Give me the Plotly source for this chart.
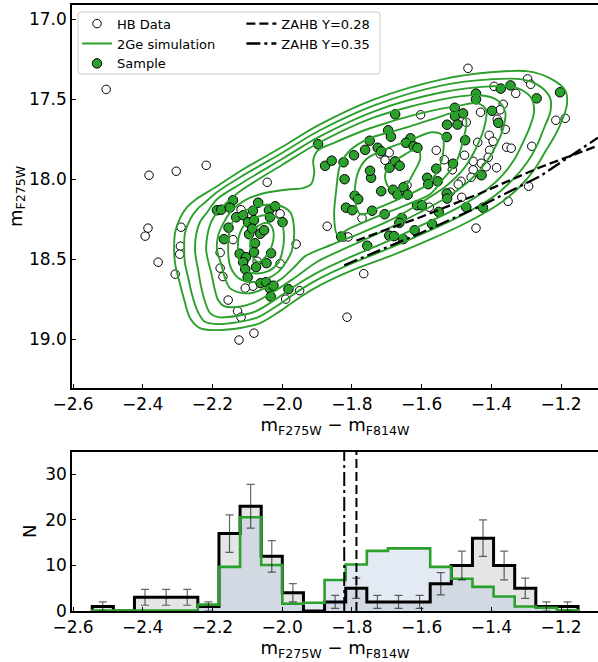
import numpy as np
import plotly.graph_objects as go

GREEN = "#2ca02c"
FONT = "DejaVu Sans"

# ---------------- observed HB stars (open circles) ----------------
hb_col = [-2.505, -1.467, -2.382, -2.304, -2.218, -2.043, -2.385, -2.393, -2.290, -2.356,
          -2.307, -2.292, -2.294, -2.178, -2.178, -2.170, -2.155, -2.128, -2.118, -2.124,
          -2.081, -2.141, -2.084, -1.960, -1.990, -1.950, -1.814, -1.766, -1.871, -1.771,
          -1.822, -1.811, -1.444, -1.352, -1.485, -1.293, -1.578, -1.296, -1.287, -1.392,
          -1.330, -1.366, -1.375, -1.431, -1.472, -1.383, -1.360, -1.215, -1.188, -1.603,
          -1.406, -1.395, -1.439, -1.405, -1.356, -1.343, -1.284, -1.558, -1.477, -1.535,
          -1.409, -1.452, -1.429, -1.512, -1.452, -1.415, -1.385, -1.432, -1.458, -1.487,
          -1.495, -1.518, -1.719, -1.693, -1.705, -1.642, -2.118, -2.006, -2.072, -2.006,
          -2.106]
hb_mag = [17.438, 17.306, 17.975, 17.950, 17.913, 18.019, 18.306, 18.356, 18.300, 18.519,
          18.594, 18.419, 18.469, 18.459, 18.556, 18.609, 18.756, 18.825, 18.863, 19.006,
          18.963, 18.378, 18.669, 18.406, 18.750, 18.697, 18.863, 18.591, 18.294, 18.244,
          18.361, 18.361, 18.306, 18.138, 18.113, 18.044, 18.175, 17.372, 17.406, 17.419,
          17.463, 17.531, 17.566, 17.581, 17.644, 17.625, 17.688, 17.631, 17.619, 17.597,
          17.725, 17.763, 17.769, 17.819, 17.800, 17.806, 17.794, 17.819, 17.850, 17.878,
          17.863, 17.888, 17.900, 17.941, 17.941, 17.922, 17.928, 17.972, 17.988, 18.013,
          18.031, 18.081, 17.841, 17.834, 17.881, 18.038, 18.191, 18.216, 18.513, 18.528,
          18.681]

# ---------------- stars drawn from the 2Ge simulation ----------------
sample_col = [-2.187, -2.175, -2.141, -2.150, -2.132, -2.112, -2.098, -2.084, -2.069, -2.081,
              -2.154, -2.167, -2.095, -2.063, -2.052, -2.038, -2.035, -2.020, -1.999, -2.122,
              -2.104, -2.081, -2.112, -2.106, -2.099, -2.075, -2.045, -2.032, -2.062, -2.046,
              -2.035, -2.025, -2.033, -1.982, -2.086, -2.078,
              -1.897, -1.877, -1.858, -1.824, -1.821, -1.817, -1.799, -1.792, -1.782, -1.831,
              -1.756, -1.745, -1.748, -1.742, -1.794, -1.762, -1.749, -1.726, -1.716, -1.696,
              -1.688, -1.676, -1.632, -1.645, -1.623, -1.612, -1.676, -1.663, -1.692, -1.716,
              -1.682, -1.652, -1.669, -1.640, -1.584, -1.581, -1.554, -1.558, -1.528, -1.527,
              -1.505, -1.504, -1.481, -1.497, -1.475, -1.510, -1.428, -1.706, -1.613, -1.599,
              -1.528, -1.527, -1.657, -1.664, -1.693, -1.679, -1.620, -1.570, -1.551, -1.472,
              -1.424, -1.653, -1.398, -1.444, -1.444, -1.373, -1.345, -1.270, -1.203, -1.380]
sample_mag = [18.194, 18.191, 18.131, 18.178, 18.238, 18.225, 18.269, 18.197, 18.147, 18.256,
              18.303, 18.375, 18.344, 18.341, 18.319, 18.194, 18.238, 18.169, 18.269, 18.466,
              18.488, 18.456, 18.519, 18.563, 18.613, 18.550, 18.525, 18.463, 18.650, 18.644,
              18.684, 18.666, 18.734, 18.688, 18.309, 18.400,
              17.781, 17.916, 17.884, 17.894, 18.000, 18.178, 18.194, 18.103, 18.125, 18.359,
              18.416, 17.991, 17.947, 18.197, 17.850, 17.816, 17.759, 17.803, 17.825, 17.694,
              17.734, 17.594, 17.744, 17.772, 17.794, 17.803, 17.888, 17.916, 17.928, 18.075,
              18.066, 18.050, 18.097, 18.097, 17.991, 18.031, 18.013, 17.934, 17.736, 17.659,
              17.553, 17.606, 17.588, 17.658, 17.756, 17.903, 17.975, 18.219, 18.163, 18.163,
              18.089, 18.121, 18.242, 18.273, 18.353, 18.356, 18.319, 18.281, 18.204, 18.175,
              18.178, 18.375, 17.572, 17.464, 17.500, 17.433, 17.413, 17.494, 17.456, 17.647]

# ---------------- zero-age HB loci ----------------
zahb28_col = [-1.787, -1.604, -1.432, -1.260, -1.094]
zahb28_mag = [18.384, 18.238, 18.088, 17.925, 17.790]
zahb35_col = [-1.822, -1.604, -1.432, -1.260, -1.094]
zahb35_mag = [18.538, 18.338, 18.169, 17.981, 17.740]

# ---------------- density contours of the 2Ge simulation ----------------
c1_col = [-2.310, -2.307, -2.293, -2.273, -2.247, -2.187, -2.121, -1.997, -1.897, -1.736,
          -1.541, -1.403, -1.294, -1.231, -1.188, -1.183, -1.197, -1.217, -1.243, -1.274,
          -1.317, -1.375, -1.469, -1.567, -1.676, -1.805, -1.891, -1.949, -2.006, -2.063,
          -2.121, -2.193, -2.236, -2.264, -2.281, -2.296, -2.307]
c1_mag = [18.444, 18.331, 18.244, 18.175, 18.125, 18.044, 17.950, 17.794, 17.663, 17.500,
          17.375, 17.331, 17.325, 17.369, 17.444, 17.531, 17.631, 17.725, 17.819, 17.931,
          18.044, 18.150, 18.269, 18.369, 18.469, 18.575, 18.663, 18.738, 18.825, 18.900,
          18.931, 18.944, 18.931, 18.869, 18.756, 18.631, 18.531]
c2_col = [-2.281, -2.279, -2.264, -2.244, -2.221, -2.187, -2.121, -1.997, -1.897, -1.736,
          -1.541, -1.403, -1.312, -1.260, -1.231, -1.231, -1.249, -1.269, -1.297, -1.340,
          -1.392, -1.484, -1.581, -1.685, -1.805, -1.891, -1.954, -2.012, -2.069, -2.127,
          -2.190, -2.224, -2.244, -2.259, -2.270, -2.279]
c2_mag = [18.444, 18.338, 18.250, 18.188, 18.144, 18.081, 17.988, 17.831, 17.700, 17.538,
          17.413, 17.375, 17.375, 17.419, 17.494, 17.581, 17.681, 17.788, 17.894, 18.006,
          18.106, 18.225, 18.325, 18.425, 18.531, 18.619, 18.700, 18.788, 18.863, 18.894,
          18.906, 18.888, 18.819, 18.719, 18.613, 18.525]
c3_col = [-2.250, -2.247, -2.236, -2.215, -2.187, -2.121, -1.997, -1.897, -1.736, -1.541,
          -1.403, -1.332, -1.289, -1.277, -1.289, -1.309, -1.332, -1.366, -1.412, -1.498,
          -1.593, -1.690, -1.805, -1.891, -1.960, -2.018, -2.075, -2.132, -2.184, -2.207,
          -2.221, -2.233, -2.241, -2.247]
c3_mag = [18.444, 18.350, 18.269, 18.206, 18.125, 18.031, 17.869, 17.738, 17.575, 17.456,
          17.419, 17.425, 17.481, 17.569, 17.669, 17.769, 17.869, 17.969, 18.063, 18.181,
          18.281, 18.381, 18.488, 18.575, 18.663, 18.750, 18.825, 18.856, 18.863, 18.838,
          18.769, 18.669, 18.569, 18.500]
c4_col = [-2.218, -2.215, -2.204, -2.184, -2.155, -2.121, -1.997, -1.897, -1.736, -1.541,
          -1.432, -1.383, -1.360, -1.366, -1.386, -1.415, -1.455, -1.518, -1.610, -1.705,
          -1.805, -1.897, -1.966, -2.026, -2.084, -2.132, -2.167, -2.184, -2.195, -2.204,
          -2.213]
c4_mag = [18.444, 18.356, 18.269, 18.200, 18.138, 18.075, 17.906, 17.775, 17.613, 17.500,
          17.475, 17.506, 17.581, 17.681, 17.788, 17.894, 17.994, 18.100, 18.213, 18.319,
          18.419, 18.513, 18.619, 18.706, 18.775, 18.800, 18.794, 18.756, 18.675, 18.581,
          18.506]
c5_col = [-2.187, -2.184, -2.170, -2.144, -2.106, -2.063, -2.020, -1.977, -1.940, -1.917,
          -1.908, -1.911, -1.897, -1.848, -1.748, -1.604, -1.490, -1.438, -1.415, -1.421,
          -1.444, -1.478, -1.527, -1.604, -1.690, -1.776, -1.863, -1.934, -1.963, -2.000,
          -2.049, -2.092, -2.127, -2.150, -2.164, -2.175]
c5_mag = [18.444, 18.356, 18.281, 18.194, 18.131, 18.094, 18.075, 18.063, 18.056, 18.031,
          17.956, 17.881, 17.819, 17.769, 17.681, 17.588, 17.538, 17.525, 17.569, 17.681,
          17.806, 17.931, 18.038, 18.150, 18.256, 18.338, 18.413, 18.481, 18.544, 18.619,
          18.681, 18.713, 18.706, 18.681, 18.619, 18.531]
c6a_col = [-2.155, -2.152, -2.138, -2.104, -2.058, -2.012, -1.977, -1.966, -1.972, -1.989,
           -2.012, -2.046, -2.086, -2.121, -2.144, -2.152]
c6a_mag = [18.444, 18.338, 18.250, 18.194, 18.163, 18.163, 18.206, 18.306, 18.444, 18.519,
           18.581, 18.625, 18.644, 18.625, 18.569, 18.519]
c6b_col = [-1.842, -1.851, -1.845, -1.834, -1.805, -1.756, -1.662, -1.561, -1.495, -1.472,
           -1.481, -1.501, -1.541, -1.576, -1.647, -1.733, -1.805]
c6b_mag = [18.344, 18.225, 18.069, 17.913, 17.819, 17.750, 17.688, 17.619, 17.581, 17.631,
           17.756, 17.894, 18.006, 18.094, 18.163, 18.238, 18.306]
c7a_col = [-2.127, -2.124, -2.109, -2.075, -2.035, -2.003, -1.995, -2.000, -2.012, -2.040,
           -2.081, -2.112, -2.124]
c7a_mag = [18.444, 18.356, 18.288, 18.238, 18.225, 18.263, 18.350, 18.456, 18.525, 18.575,
           18.588, 18.556, 18.500]
c7b_col = [-1.776, -1.791, -1.785, -1.759, -1.705, -1.633, -1.570, -1.541, -1.538, -1.553,
           -1.587, -1.647, -1.719]
c7b_mag = [18.219, 18.131, 17.975, 17.875, 17.813, 17.756, 17.706, 17.725, 17.831, 17.944,
           18.038, 18.106, 18.175]
c8a_col = [-2.092, -2.086, -2.066, -2.040, -2.026, -2.029, -2.046, -2.069, -2.086]
c8a_mag = [18.413, 18.338, 18.288, 18.275, 18.319, 18.413, 18.481, 18.519, 18.481]
c8b_col = [-1.705, -1.685, -1.647, -1.610, -1.604, -1.622, -1.645, -1.673, -1.696]
c8b_mag = [17.975, 17.900, 17.844, 17.806, 17.869, 17.956, 18.038, 18.069, 18.044]

contours = [(c1_col, c1_mag), (c2_col, c2_mag), (c3_col, c3_mag), (c4_col, c4_mag),
            (c5_col, c5_mag), (c6a_col, c6a_mag), (c6b_col, c6b_mag), (c7a_col, c7a_mag),
            (c7b_col, c7b_mag), (c8a_col, c8a_mag), (c8b_col, c8b_mag)]

# ---------------- colour histograms ----------------
bin_lo = -2.545
bin_w = 0.0606
hb_counts = [1, 0, 3, 3, 3, 1, 17, 23, 12, 4, 0, 2, 5, 2, 2, 2, 6, 10, 16, 10, 5, 1, 1]
sim_counts = [0.1, 0.1, 0.1, 0.1, 0.1, 1.4, 9.7, 20.6, 10.1, 1.6, 1.8, 6.8, 10.2, 13.2,
              13.75, 13.75, 9.7, 7.1, 5.3, 3.2, 1.0, 0.7, 0.15]

x_range = [-2.603, -1.094]
x_ticks = [-2.6, -2.4, -2.2, -2.0, -1.8, -1.6, -1.4, -1.2]
mag_ticks = [17.0, 17.5, 18.0, 18.5, 19.0]
n_ticks = [0, 10, 20, 30]

DASH28 = "9px,4px"
DASH35 = "14px,4px,3px,4px"

fig = go.Figure()

# --- CMD panel ---
fig.add_trace(go.Scatter(
    x=hb_col, y=hb_mag, mode="markers", name="HB Data", legend="legend", legendrank=1,
    marker=dict(symbol="circle", size=8.5, color="white", line=dict(color="black", width=1)),
    xaxis="x", yaxis="y"))
fig.add_trace(go.Scatter(
    x=sample_col, y=sample_mag, mode="markers", name="Sample", legend="legend", legendrank=3,
    marker=dict(symbol="circle", size=9.5, color=GREEN, line=dict(color="black", width=1)),
    xaxis="x", yaxis="y"))
for i, (cx, cy) in enumerate(contours):
    fig.add_trace(go.Scatter(
        x=list(cx) + [cx[0]], y=list(cy) + [cy[0]], mode="lines",
        line=dict(color=GREEN, width=1.9, shape="spline", smoothing=0.9),
        name="2Ge simulation", legend="legend", legendrank=2, showlegend=(i == 0),
        hoverinfo="skip", xaxis="x", yaxis="y"))
fig.add_trace(go.Scatter(
    x=zahb28_col, y=zahb28_mag, mode="lines", name="ZAHB Y=0.28", legend="legend2",
    legendrank=1, line=dict(color="black", width=2.3, dash=DASH28), xaxis="x", yaxis="y"))
fig.add_trace(go.Scatter(
    x=zahb35_col, y=zahb35_mag, mode="lines", name="ZAHB Y=0.35", legend="legend2",
    legendrank=2, line=dict(color="black", width=2.3, dash=DASH35), xaxis="x", yaxis="y"))

# --- histogram panel ---
edges = bin_lo + bin_w * np.arange(len(hb_counts) + 1)


def step_xy(counts):
    xs = [edges[0]] + list(edges[:-1]) + [edges[-1], edges[-1]]
    ys = [0] + list(counts) + [counts[-1], 0]
    return xs, ys


hx, hy = step_xy(hb_counts)
sx, sy = step_xy(sim_counts)

fig.add_trace(go.Scatter(x=hx, y=hy, mode="lines", line=dict(width=0, shape="hv"),
                         fill="tozeroy", fillcolor="#e5e5e5", showlegend=False,
                         hoverinfo="skip", xaxis="x2", yaxis="y2"))
fig.add_trace(go.Scatter(x=sx, y=sy, mode="lines", line=dict(width=0, shape="hv"),
                         fill="tozeroy", fillcolor="rgba(176,196,222,0.35)", showlegend=False,
                         hoverinfo="skip", xaxis="x2", yaxis="y2"))
fig.add_trace(go.Scatter(x=hx, y=hy, mode="lines", line=dict(color="black", width=3, shape="hv"),
                         showlegend=False, xaxis="x2", yaxis="y2"))
fig.add_trace(go.Scatter(x=sx, y=sy, mode="lines", line=dict(color=GREEN, width=2.6, shape="hv"),
                         showlegend=False, xaxis="x2", yaxis="y2"))

centers = edges[:-1] + bin_w / 2
hb_arr = np.array(hb_counts, dtype=float)
nz = hb_arr > 0
fig.add_trace(go.Scatter(
    x=centers[nz], y=hb_arr[nz], mode="markers", marker=dict(size=1, opacity=0),
    error_y=dict(type="data", array=np.sqrt(hb_arr[nz]), color="rgba(0,0,0,0.6)",
                 thickness=1.2, width=4),
    showlegend=False, xaxis="x2", yaxis="y2"))

fig.add_trace(go.Scatter(x=[zahb35_col[0], zahb35_col[0]], y=[0, 35], mode="lines",
                         line=dict(color="black", width=2, dash=DASH35), showlegend=False,
                         xaxis="x2", yaxis="y2"))
fig.add_trace(go.Scatter(x=[zahb28_col[0], zahb28_col[0]], y=[0, 35], mode="lines",
                         line=dict(color="black", width=2, dash=DASH28), showlegend=False,
                         xaxis="x2", yaxis="y2"))

axis_common = dict(showline=True, linecolor="black", linewidth=1.5, ticks="inside",
                   ticklen=4, tickwidth=1.2, tickcolor="black", showgrid=False,
                   zeroline=False, tickfont=dict(family=FONT, size=17, color="black"),
                   automargin=False)
xtitle = "m<sub>F275W</sub> − m<sub>F814W</sub>"

fig.update_layout(
    width=598, height=662,
    margin=dict(l=72, r=0, t=5, b=51),
    paper_bgcolor="white", plot_bgcolor="white",
    font=dict(family=FONT, color="black"),
    xaxis=dict(domain=[0, 1], anchor="y", range=x_range, tickvals=x_ticks,
               tickformat=".1f", mirror=True,
               title=dict(text=xtitle, font=dict(family=FONT, size=18), standoff=0),
               **axis_common),
    yaxis=dict(domain=[0.368, 1], anchor="x", range=[19.306, 16.91], tickvals=mag_ticks,
               tickformat=".1f",
               title=dict(text="m<sub>F275W</sub>", font=dict(family=FONT, size=18), standoff=2),
               **axis_common),
    xaxis2=dict(domain=[0, 1], anchor="y2", range=x_range, tickvals=x_ticks,
                tickformat=".1f", mirror=True,
                title=dict(text=xtitle, font=dict(family=FONT, size=18), standoff=1),
                **axis_common),
    yaxis2=dict(domain=[0, 0.2629], anchor="x2", range=[0, 35], tickvals=n_ticks,
                title=dict(text="N", font=dict(family=FONT, size=18), standoff=4),
                **axis_common),
    legend=dict(x=0.0095, y=0.994, xanchor="left", yanchor="top",
                bgcolor="rgba(0,0,0,0)", borderwidth=0,
                font=dict(family=FONT, size=13), tracegroupgap=0),
    legend2=dict(x=0.322, y=0.994, xanchor="left", yanchor="top",
                 bgcolor="rgba(0,0,0,0)", borderwidth=0,
                 font=dict(family=FONT, size=13), tracegroupgap=0),
)

# legend frame (light rounded box behind both legend columns)
x0, x1, y0, y1 = 0.0114, 0.5856, 0.8861, 0.9884
rx, ry = 0.006, 0.005
frame = (f"M {x0 + rx},{y0} L {x1 - rx},{y0} Q {x1},{y0} {x1},{y0 + ry} "
         f"L {x1},{y1 - ry} Q {x1},{y1} {x1 - rx},{y1} L {x0 + rx},{y1} "
         f"Q {x0},{y1} {x0},{y1 - ry} L {x0},{y0 + ry} Q {x0},{y0} {x0 + rx},{y0} Z")
fig.add_shape(type="path", path=frame, xref="paper", yref="paper",
              line=dict(color="#cccccc", width=1), fillcolor="rgba(255,255,255,0.8)",
              layer="below")

fig.write_html("out.html")
